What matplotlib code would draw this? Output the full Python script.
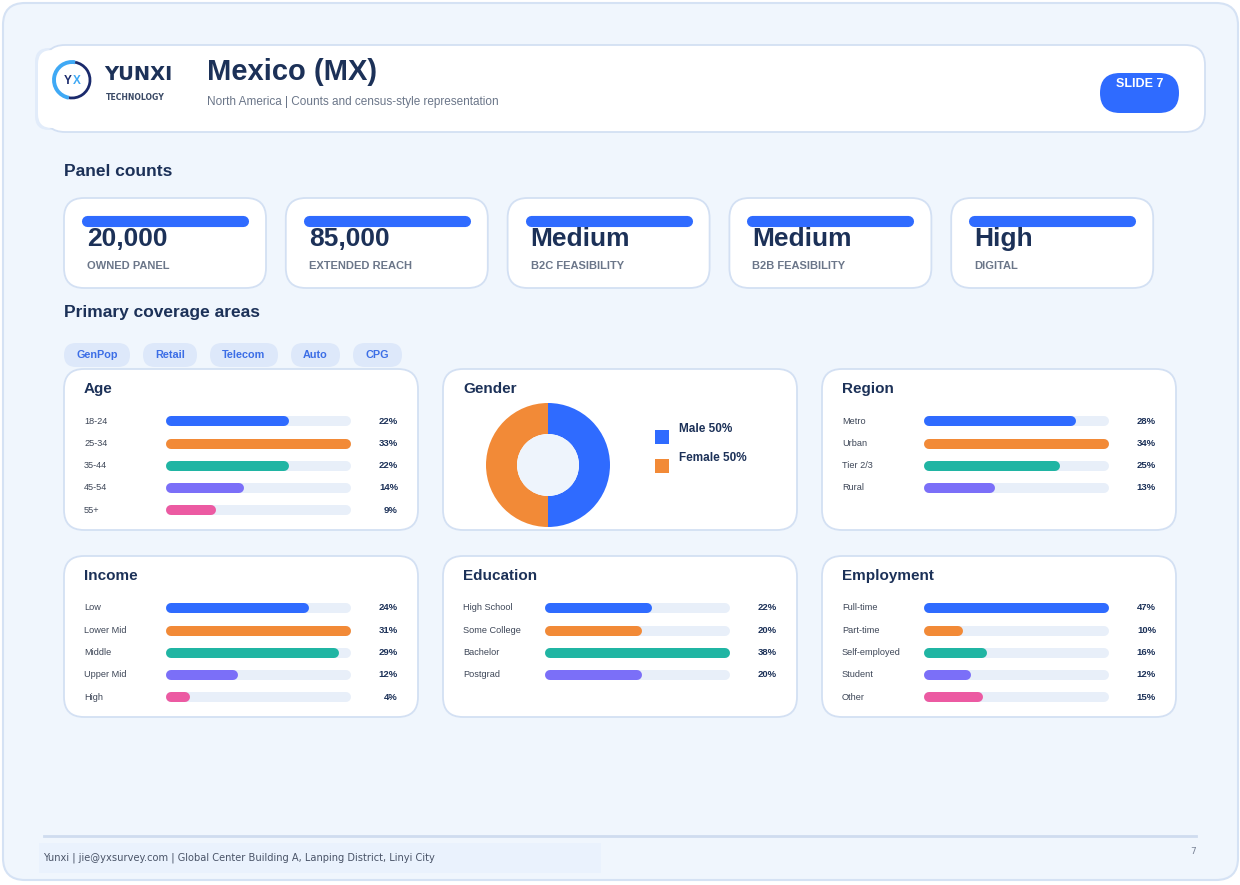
import numpy as np
import matplotlib
matplotlib.use("Agg")
import matplotlib.pyplot as plt
from matplotlib.patches import FancyBboxPatch, Circle, Arc, Rectangle

plt.rcParams['font.family'] = ['Liberation Sans', 'DejaVu Sans']

# ---------------- data ----------------
kpi_values = ["20,000", "85,000", "Medium", "Medium", "High"]
kpi_labels = ["OWNED PANEL", "EXTENDED REACH", "B2C FEASIBILITY", "B2B FEASIBILITY", "DIGITAL"]
chips = ["GenPop", "Retail", "Telecom", "Auto", "CPG"]

age_labels = ["18-24", "25-34", "35-44", "45-54", "55+"]
age_values = [22, 33, 22, 14, 9]
gender_labels = ["Male", "Female"]
gender_values = [50, 50]
region_labels = ["Metro", "Urban", "Tier 2/3", "Rural"]
region_values = [28, 34, 25, 13]
income_labels = ["Low", "Lower Mid", "Middle", "Upper Mid", "High"]
income_values = [24, 31, 29, 12, 4]
education_labels = ["High School", "Some College", "Bachelor", "Postgrad"]
education_values = [22, 20, 38, 20]
employment_labels = ["Full-time", "Part-time", "Self-employed", "Student", "Other"]
employment_values = [47, 10, 16, 12, 15]

# ---------------- style ----------------
W, H = 1240, 885
CARD_EDGE = "#d3e0f3"
NAVY = "#1c3158"
GREY = "#6b7689"
BLUE = "#2f6bff"
ORANGE = "#f28a37"
BAR_COLORS = ["#2f6bff", "#f28a37", "#20b5a3", "#7b6ff8", "#ec5aa2"]
TRACK = "#e8eff9"

fig = plt.figure(figsize=(W / 100, H / 100), dpi=100)
fig.patch.set_facecolor("white")
ax = fig.add_axes([0, 0, 1, 1])
ax.set_xlim(0, W)
ax.set_ylim(H, 0)
ax.axis("off")


def card(x0, y0, x1, y1, r=18, fc="white", ec=CARD_EDGE, lw=1.3, z=1):
    p = FancyBboxPatch((x0 + r, y0 + r), (x1 - x0) - 2 * r, (y1 - y0) - 2 * r,
                       boxstyle=f"round,pad={r}", fc=fc, ec=ec, lw=lw, zorder=z)
    ax.add_patch(p)


def px_axes(x0, y0, x1, y1):
    return fig.add_axes([x0 / W, 1 - y1 / H, (x1 - x0) / W, (y1 - y0) / H])


# outer frame
card(3, 3, 1238, 880, r=22, fc="#f0f6fd", ec="#d5e2f4", lw=1.5, z=0)

# header
card(35, 48, 200, 130, r=14, fc="#e2ecfa", ec="none", z=1)
card(45, 45, 1205, 132, r=20, fc="white", ec=CARD_EDGE, z=2)
card(38, 50, 196, 128, r=14, fc="white", ec="none", z=2)

# logo
ax.add_patch(Arc((72, 80), 36, 36, theta1=100, theta2=280, color="#3fa9f5", lw=2.8, zorder=3))
ax.add_patch(Arc((72, 80), 36, 36, theta1=-80, theta2=100, color="#1a2a6c", lw=2.0, zorder=3))
ax.text(67.5, 81, "Y", fontsize=8.5, fontweight="bold", color="#1a2a6c", ha="center", va="center", zorder=4)
ax.text(76.5, 81, "X", fontsize=8.5, fontweight="bold", color="#3fa9f5", ha="center", va="center", zorder=4)
ax.text(104, 74, "YUNXI", fontsize=14, fontweight="bold", color=NAVY, ha="left", va="center",
        family="DejaVu Sans", zorder=4)
ax.text(106, 98, "TECHNOLOGY", fontsize=5.6, fontweight="bold", color="#3b4a66", ha="left",
        va="center", family="DejaVu Sans", zorder=4)

ax.text(207, 72, "Mexico (MX)", fontsize=21, fontweight="bold", color=NAVY, ha="left", va="center", zorder=4)
ax.text(207, 102, "North America | Counts and census-style representation", fontsize=8.5,
        color=GREY, ha="left", va="center", zorder=4)

ax.add_patch(FancyBboxPatch((1120, 93), 39, 0, boxstyle="round,pad=20,rounding_size=20",
                            fc=BLUE, ec="none", zorder=4))
ax.text(1140, 84, "SLIDE 7", fontsize=9, fontweight="bold", color="white", ha="center", va="center", zorder=5)

# panel counts
ax.text(64, 171, "Panel counts", fontsize=12.5, fontweight="bold", color=NAVY, ha="left", va="center")
for i, (v, lab) in enumerate(zip(kpi_values, kpi_labels)):
    x0 = 64 + i * 221.8
    card(x0, 198, x0 + 202, 288, r=20)
    ax.plot([x0 + 23, x0 + 179], [221, 221], color=BLUE, lw=8, solid_capstyle="round", zorder=3)
    ax.text(x0 + 23, 239, v, fontsize=19, fontweight="bold", color=NAVY, ha="left", va="center", zorder=4)
    ax.text(x0 + 23, 266, lab, fontsize=8, fontweight="bold", color=GREY, ha="left", va="center", zorder=4)

# coverage
ax.text(64, 313, "Primary coverage areas", fontsize=12.5, fontweight="bold", color=NAVY, ha="left", va="center")
chip_x = [64, 143, 210, 291, 353]
chip_w = [66, 54, 68, 49, 49]
for cx, cw, c in zip(chip_x, chip_w, chips):
    ax.add_patch(FancyBboxPatch((cx + 12, 355), cw - 24, 0, boxstyle="round,pad=12",
                                fc="#dde8fa", ec="none", zorder=1))
    ax.text(cx + cw / 2, 355, c, fontsize=7.8, fontweight="bold", color="#3c6ee6",
            ha="center", va="center", zorder=2)


def bar_panel(x0, y0, title, labels, values):
    card(x0, y0, x0 + 354, y0 + 161, r=20)
    ax.text(x0 + 20, y0 + 20, title, fontsize=11, fontweight="bold", color=NAVY,
            ha="left", va="center", zorder=4)
    n = len(labels)
    rows_y = [y0 + 52 + 22.3 * k for k in range(n)]
    for lab, v, yy in zip(labels, values, rows_y):
        ax.text(x0 + 20, yy, lab, fontsize=6.6, color="#3d4657", ha="left", va="center", zorder=4)
        ax.text(x0 + 334, yy, f"{v}%", fontsize=6.8, fontweight="bold", color=NAVY,
                ha="right", va="center", zorder=4)
    # bars on a track scaled to the panel maximum
    vmax = max(values)
    bx = px_axes(x0 + 102, y0 + 40, x0 + 287, y0 + 40 + 22.3 * n)
    bx.set_xlim(0, vmax)
    bx.set_ylim(n - 0.5, -0.5)
    bx.axis("off")
    r = vmax * 5 / 185
    ys = np.arange(n) + 0.05
    bx.hlines(ys, r, vmax - r, color=TRACK, lw=7.2, capstyle="round")
    for k, v in enumerate(values):
        bx.hlines(ys[k], r, max(v - r, r + 1e-6), color=BAR_COLORS[k % 5], lw=7.2, capstyle="round")


bar_panel(64, 369, "Age", age_labels, age_values)
bar_panel(822, 369, "Region", region_labels, region_values)
bar_panel(64, 556, "Income", income_labels, income_values)
bar_panel(443, 556, "Education", education_labels, education_values)
bar_panel(822, 556, "Employment", employment_labels, employment_values)

# gender donut
card(443, 369, 797, 530, r=20)
ax.text(463, 389, "Gender", fontsize=11, fontweight="bold", color=NAVY, ha="left", va="center", zorder=4)
gx = px_axes(486, 403, 610, 527)
gx.pie(gender_values, colors=[BLUE, ORANGE], startangle=90, counterclock=False,
       wedgeprops=dict(width=0.5, edgecolor="none"), radius=1.0)
gx.add_patch(Circle((0, 0), 0.5, fc="#eef4fc", ec="none"))
gx.set_xlim(-1, 1)
gx.set_ylim(-1, 1)
gx.set_aspect("equal")
for k, (lab, v) in enumerate(zip(gender_labels, gender_values)):
    yy = 437 + 29 * k
    ax.add_patch(Rectangle((655, yy - 7), 14, 14, fc=[BLUE, ORANGE][k], ec="none", zorder=4))
    ax.text(679, yy - 8, f"{lab} {v}%", fontsize=8.5, fontweight="bold", color=NAVY,
            ha="left", va="center", zorder=4)

# footer
ax.plot([44, 1196], [836, 836], color="#cfdcef", lw=2, zorder=2)
ax.add_patch(Rectangle((39, 843), 562, 30, fc="#eaf2fd", ec="none", zorder=1))
ax.text(43, 858, "Yunxi | jie@yxsurvey.com | Global Center Building A, Lanping District, Linyi City",
        fontsize=7.1, color="#4a5468", ha="left", va="center", family="DejaVu Sans", zorder=2)
ax.text(1196, 852, "7", fontsize=6.5, color="#7a8497", ha="right", va="center",
        family="DejaVu Sans", zorder=2)

fig.savefig("out.png", dpi=100, facecolor=fig.get_facecolor())
